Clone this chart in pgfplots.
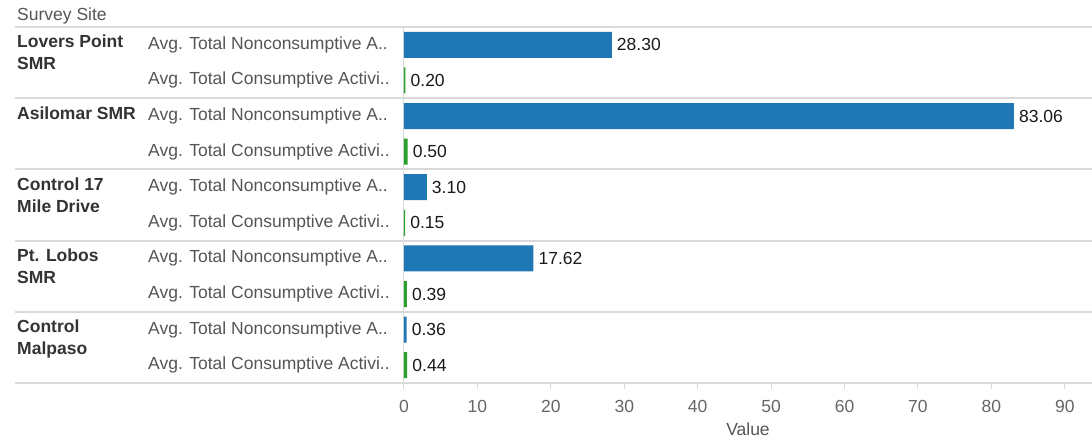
\documentclass[border=0pt]{standalone}
\usepackage{fontspec}
\setmainfont{Liberation Sans}
\usepackage{pgfplots}
\pgfplotsset{compat=1.18}
\definecolor{barblue}{HTML}{1F77B4}
\definecolor{bargreen}{HTML}{2CA02C}
\definecolor{sep}{HTML}{D9D9D9}
\definecolor{txtgray}{HTML}{555555}
\definecolor{ticgray}{HTML}{666666}
\definecolor{grpgray}{HTML}{333333}
\begin{document}
\fontsize{17.5}{21}\selectfont
\begin{tikzpicture}[font=\fontsize{17.5}{21}\selectfont]
\useasboundingbox (-404pt,-59pt) rectangle (688pt,383pt);
\begin{axis}[
  at={(0pt,0pt)}, anchor=south west,
  scale only axis, width=688pt, height=356pt,
  xmin=0, xmax=93.7, ymin=-0.5, ymax=9.5, y dir=reverse,
  xbar, bar width=26pt, bar shift=0pt,
  axis x line*=bottom, axis y line*=left,
  x axis line style={draw=none},
  y axis line style={draw=sep, line width=1pt},
  xtick={0,10,...,90}, tick align=outside, major tick length=6pt,
  x tick style={draw=sep, line width=1pt},
  ytick={0,...,9}, y tick style={draw=none},
  yticklabels={Avg. Total Nonconsumptive A..,Avg. Total Consumptive Activi..,Avg. Total Nonconsumptive A..,Avg. Total Consumptive Activi..,Avg. Total Nonconsumptive A..,Avg. Total Consumptive Activi..,Avg. Total Nonconsumptive A..,Avg. Total Consumptive Activi..,Avg. Total Nonconsumptive A..,Avg. Total Consumptive Activi..},
  yticklabel style={anchor=west, xshift=-250pt, inner sep=0pt, text=txtgray},
  xticklabel style={text=ticgray, yshift=-5pt},
  /pgf/number format/assume math mode=true,
  xlabel={Value}, xlabel style={text=txtgray, yshift=-3pt, inner sep=1pt},
  clip=false,
  nodes near coords, nodes near coords align={horizontal},
  every node near coord/.append style={text=black!90, anchor=west, inner sep=1pt, xshift=4pt,
    /pgf/number format/fixed, /pgf/number format/precision=2, /pgf/number format/fixed zerofill},
]
\draw[sep, line width=2pt] (axis cs:-52.98,-0.5) -- (axis cs:93.7,-0.5);
\draw[sep, line width=2pt] (axis cs:-52.98,1.5) -- (axis cs:93.7,1.5);
\draw[sep, line width=2pt] (axis cs:-52.98,3.5) -- (axis cs:93.7,3.5);
\draw[sep, line width=2pt] (axis cs:-52.98,5.5) -- (axis cs:93.7,5.5);
\draw[sep, line width=2pt] (axis cs:-52.98,7.5) -- (axis cs:93.7,7.5);
\draw[sep, line width=2pt] (axis cs:-52.98,9.5) -- (axis cs:93.7,9.5);
\addplot[fill=barblue, draw=none] coordinates {(28.30,0) (83.06,2) (3.10,4) (17.62,6) (0.36,8)};
\addplot[fill=bargreen, draw=none] coordinates {(0.20,1) (0.50,3) (0.15,5) (0.39,7) (0.44,9)};
\end{axis}
\node[anchor=base west, inner sep=0pt, text=txtgray] at (-387pt,362pt) {Survey Site};
\begin{scope}[every node/.style={anchor=base west, inner sep=0pt, text=grpgray, font=\fontsize{17.5}{21}\selectfont\bfseries}]
\node at (-387pt,335pt) {Lovers Point};
\node at (-387pt,313pt) {SMR};
\node at (-387pt,263.8pt) {Asilomar SMR};
\node at (-387pt,192.6pt) {Control 17};
\node at (-387pt,170.6pt) {Mile Drive};
\node at (-387pt,121.4pt) {Pt. Lobos};
\node at (-387pt,99.4pt) {SMR};
\node at (-387pt,50.2pt) {Control};
\node at (-387pt,28.2pt) {Malpaso};
\end{scope}
\end{tikzpicture}
\end{document}
